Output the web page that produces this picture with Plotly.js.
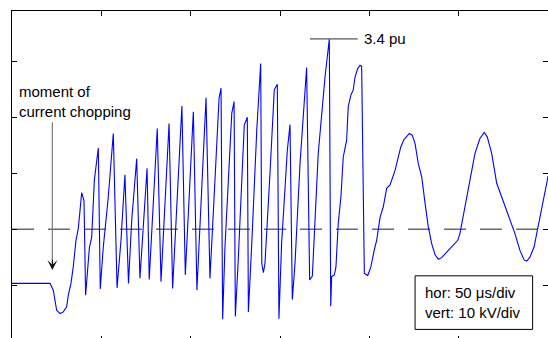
<!DOCTYPE html>
<html>
<head>
<meta charset="utf-8">
<script src="https://cdn.plot.ly/plotly-3.0.1.min.js"></script>
<style>
html, body { margin: 0; padding: 0; overflow: hidden; background: #fff; width: 548px; height: 338px; }
#chart { width: 560px; height: 352px; }
</style>
</head>
<body>
<div id="chart"></div>
<script>
// time in microseconds (50 us per division), voltage in pu (1 pu = 10 kV per division)
const timeUs = [0,21.3,23.1,24.1,25.0,26.9,28.7,30.6,31.5,33.0,34.3,35.8,37.1,39.0,40.3,41.2,43.3,44.6,46.1,48.3,49.4,51.1,53.9,56.7,58.8,61.0,63.2,65.2,67.0,69.8,71.6,75.6,76.8,81.3,83.4,87.9,89.9,95.1,97.0,101.5,103.5,108.6,110.8,113.6,115.9,117.0,117.9,119.2,123.0,124.3,125.0,126.7,130.0,131.7,132.3,134.2,137.0,139.2,139.8,140.7,141.6,144.4,146.8,148.5,149.4,150.9,154.1,155.6,156.9,158.4,161.2,164.9,166.6,168.1,171.4,175.2,177.6,
  178.4,178.9,180.4,181.3,182.6,184.1,185.4,187.3,188.2,189.7,191.0,192.0,193.5,194.8,195.7,197.2,199.1,200.9,202.7,204.1,206.0,207.8,209.7,211.6,214.4,216.2,217.6,219.4,222.4,224.0,225.6,227.4,229.3,231.2,233.0,234.9,236.8,238.6,240.5,243.3,246.1,249.5,250.7,252.6,254.8,256.3,259.1,261.9,264.3,266.0,268.5,271.3,274.1,276.9,279.7,281.5,284.3,286.6,288.1,289.9,292.2,294.6,297.4,299.3,300];
const voltagePu = [-0.97,-0.97,-1.09,-1.30,-1.45,-1.51,-1.48,-1.39,-1.18,-0.97,-0.67,-0.20,0.01,0.65,0.51,-1.18,-0.34,-0.14,0.88,1.45,-1.07,-0.32,0.58,1.71,-1.05,-0.20,0.97,-0.97,0.16,1.26,-0.88,1.09,-0.90,1.80,-0.94,1.89,-1.06,2.20,-0.82,2.10,-1.09,2.35,-0.88,0.88,2.34,2.52,-1.61,-0.32,2.07,2.28,-1.56,-0.50,1.86,2.00,-1.48,-0.26,1.77,2.96,-0.61,-0.78,-0.61,1.00,2.49,2.59,-1.60,-0.26,1.41,1.87,-1.26,-0.61,1.17,2.89,-0.91,-0.84,1.35,2.72,3.40,
  -1.38,-0.85,-0.82,-0.68,0.10,0.58,1.29,1.59,2.19,2.40,2.49,2.72,2.87,2.93,2.91,-0.79,-0.83,-0.67,-0.38,-0.20,0.21,0.40,0.73,0.79,1.05,1.26,1.47,1.60,1.71,1.68,1.53,1.17,0.94,0.46,0.04,-0.26,-0.46,-0.54,-0.51,-0.41,-0.32,-0.20,-0.08,0.25,0.58,0.85,1.35,1.62,1.73,1.65,1.35,0.82,0.58,0.31,0.10,-0.08,-0.38,-0.55,-0.57,-0.50,-0.32,0.04,0.52,0.82,0.95];

const xTicks = [0,50,100,150,200,250,300];
const yTicks = [-2,-1,0,1,2,3];
const peakLabel = "3.4 pu";
const peakValue = 3.4;
const chopTime = 22.6;
const chopText = "moment of<br>current chopping";
const infoText = "hor: 50 \u03bcs/div<br>vert: 10 kV/div";

const font = {family: "Liberation Sans, Arial, sans-serif", size: 15, color: "#000"};

const trace = {
  x: timeUs, y: voltagePu, type: "scatter", mode: "lines",
  line: {color: "#0000ff", width: 1.1}, hoverinfo: "skip"
};

const axisCommon = {
  showgrid: false, zeroline: false, showticklabels: false,
  showline: true, mirror: "ticks", linecolor: "#000", linewidth: 1,
  ticks: "inside", ticklen: 5, tickwidth: 1, tickcolor: "#000",
  fixedrange: true
};

const layout = {
  width: 560, height: 352,
  margin: {l: 12, r: 12, t: 11, b: 11},
  paper_bgcolor: "#fff", plot_bgcolor: "#fff",
  showlegend: false,
  xaxis: Object.assign({}, axisCommon, {range: [0, 300], tickmode: "array", tickvals: xTicks}),
  yaxis: Object.assign({}, axisCommon, {range: [-2, 3.9], tickmode: "array", tickvals: yTicks}),
  shapes: [
    {type: "line", xref: "x", yref: "y", x0: 0, x1: 300, y0: 0, y1: 0,
     line: {color: "#6a6a6a", width: 1.5, dash: "22px,14px"}, layer: "below"},
    {type: "line", xref: "x", yref: "y", x0: 166.8, x1: 193.5, y0: peakValue, y1: peakValue,
     line: {color: "#555", width: 1.2}},
    {type: "line", xref: "x", yref: "y", x0: chopTime, x1: chopTime, y0: 1.91, y1: -0.55,
     line: {color: "#808080", width: 1.3}},
    {type: "rect", xref: "x", yref: "y", x0: 225.6, x1: 291.4, y0: -0.835, y1: -1.793,
     line: {color: "#000", width: 1}, fillcolor: "#fff"}
  ],
  annotations: [
    {xref: "x", yref: "y", x: chopTime, y: -0.73, ax: 0, ay: -12, showarrow: true,
     arrowhead: 3, arrowsize: 1.4, arrowwidth: 1.2, arrowcolor: "#111", text: ""},
    {xref: "x", yref: "y", x: 3.0, y: 2.29, xanchor: "left", yanchor: "middle",
     align: "left", showarrow: false, text: chopText, font: font},
    {xref: "x", yref: "y", x: 196.0, y: peakValue, xanchor: "left", yanchor: "middle",
     showarrow: false, text: peakLabel, font: font},
    {xref: "x", yref: "y", x: 229.8, y: -1.31, xanchor: "left", yanchor: "middle",
     align: "left", showarrow: false, text: infoText, font: font}
  ]
};

Plotly.newPlot("chart", [trace], layout, {staticPlot: true, displayModeBar: false});
</script>
</body>
</html>
